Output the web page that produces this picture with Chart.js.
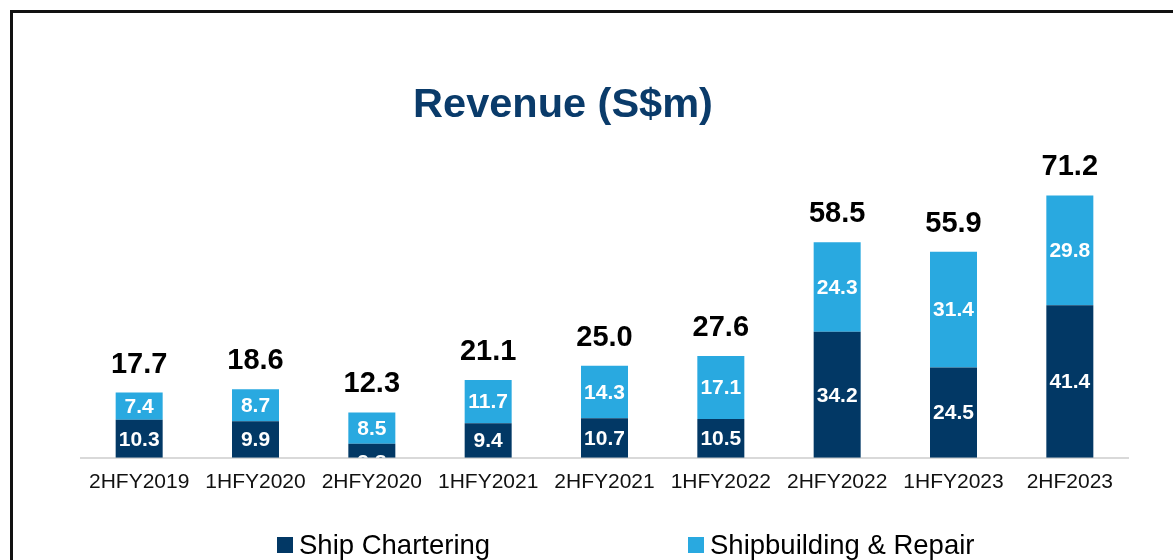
<!DOCTYPE html>
<html>
<head>
<meta charset="utf-8">
<script src="https://cdn.jsdelivr.net/npm/chart.js@4/dist/chart.umd.min.js"></script>
<style>
  html, body { margin: 0; padding: 0; background: #fff; overflow: hidden; }
  #frame { position: absolute; left: 10px; top: 10px; width: 1300px; height: 700px;
           border-top: 3px solid #111; border-left: 3px solid #111; }
  #wrap { position: absolute; left: 0; top: 0; width: 1173px; height: 560px; }
</style>
</head>
<body>
<div id="frame"></div>
<div id="wrap"><canvas id="c" width="1173" height="560"></canvas></div>
<script>
const categories = ['2HFY2019','1HFY2020','2HFY2020','1HFY2021','2HFY2021','1HFY2022','2HFY2022','1HFY2023','2HF2023'];
const shipChartering = [10.3, 9.9, 3.8, 9.4, 10.7, 10.5, 34.2, 24.5, 41.4];
const shipbuilding = [7.4, 8.7, 8.5, 11.7, 14.3, 17.1, 24.3, 31.4, 29.8];
const totals = ['17.7','18.6','12.3','21.1','25.0','27.6','58.5','55.9','71.2'];
const seriesNames = ['Ship Chartering', 'Shipbuilding & Repair'];
const chartTitle = 'Revenue (S$m)';

const NAVY = '#023865';
const SKY = '#29A9E0';
const FONT = "'Liberation Sans', Arial, sans-serif";

const labelsPlugin = {
  id: 'labelsPlugin',
  afterDatasetsDraw(chart) {
    const ctx = chart.ctx;
    const area = chart.chartArea;
    // segment labels
    ctx.save();
    ctx.beginPath();
    ctx.rect(area.left, area.top - 200, area.right - area.left, area.bottom - area.top + 200);
    ctx.clip();
    ctx.font = 'bold 21px ' + FONT;
    ctx.fillStyle = '#fff';
    ctx.textAlign = 'center';
    ctx.textBaseline = 'middle';
    chart.data.datasets.forEach((ds, di) => {
      const meta = chart.getDatasetMeta(di);
      meta.data.forEach((bar, i) => {
        const top = Math.min(bar.y, bar.base), bot = Math.max(bar.y, bar.base);
        let y = (top + bot) / 2;
        if (bot - top < 20) y = bot + 4;
        ctx.fillText(ds.data[i].toFixed(1), bar.x, y + 1);
      });
    });
    ctx.restore();
    // totals
    ctx.save();
    ctx.font = 'bold 29px ' + FONT;
    ctx.fillStyle = '#000';
    ctx.textAlign = 'center';
    ctx.textBaseline = 'middle';
    const last = chart.getDatasetMeta(chart.data.datasets.length - 1);
    last.data.forEach((bar, i) => {
      ctx.fillText(totals[i], bar.x, bar.y - 28);
    });
    ctx.restore();
    // title
    ctx.save();
    ctx.font = 'bold 41.5px ' + FONT;
    ctx.fillStyle = '#0A3B6A';
    ctx.textAlign = 'center';
    ctx.textBaseline = 'middle';
    ctx.fillText(chartTitle, 563, 106);
    ctx.restore();
    // legend
    ctx.save();
    ctx.font = '27.5px ' + FONT;
    ctx.textAlign = 'left';
    ctx.textBaseline = 'middle';
    const items = [{x: 277, c: NAVY}, {x: 688, c: SKY}];
    items.forEach((it, k) => {
      ctx.fillStyle = chart.data.datasets[k].backgroundColor;
      ctx.fillRect(it.x, 537, 16, 16);
      ctx.fillStyle = '#000';
      ctx.fillText(seriesNames[k], it.x + 22, 546);
    });
    ctx.restore();
  }
};

new Chart(document.getElementById('c'), {
  type: 'bar',
  data: {
    labels: categories,
    datasets: [
      { label: seriesNames[0], data: shipChartering, backgroundColor: NAVY, borderWidth: 0 },
      { label: seriesNames[1], data: shipbuilding, backgroundColor: SKY, borderWidth: 0 }
    ]
  },
  options: {
    responsive: false,
    animation: false,
    layout: { padding: { left: 81, right: 45, top: 163, bottom: 53 } },
    plugins: { legend: { display: false }, title: { display: false }, tooltip: { enabled: false } },
    datasets: { bar: { categoryPercentage: 1, barPercentage: 0.404 } },
    scales: {
      x: {
        stacked: true,
        grid: { display: false, drawTicks: false },
        border: { display: true, color: '#D9D9D9', width: 2 },
        ticks: { color: '#111', font: { family: FONT, size: 21 }, padding: 12, maxRotation: 0, autoSkip: false }
      },
      y: {
        stacked: true, display: false, min: 0, max: 80
      }
    }
  },
  plugins: [labelsPlugin]
});
</script>
</body>
</html>
